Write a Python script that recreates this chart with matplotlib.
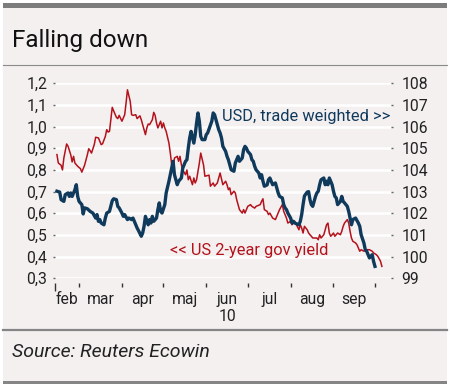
import matplotlib
matplotlib.use("Agg")
import matplotlib.pyplot as plt
import matplotlib.dates as mdates
from matplotlib.patches import Rectangle
from matplotlib.lines import Line2D
from matplotlib.transforms import blended_transform_factory
import pandas as pd

# ---------------- data (day-of-year 2010, value) ----------------
red_doy = [44,45,47,48,49,51,52,54,55,56,57,59,61,62,64,66,67,68,69,71,72,74,76,77,79,80,81,82,84,85,
           87,88,89,91,93,94,95,97,98,99,101,102,104,105,108,109,110,111,113,114,115,116,117,119,120,121,
           122,123,125,126,127,128,129,131,132,133,134,135,137,138,139,140,142,143,144,145,146,147,148,150,
           151,154,155,157,158,160,161,162,163,164,166,167,168,169,170,172,173,174,175,176,178,179,180,181,
           182,184,185,187,188,191,192,193,194,196,197,198,200,202,204,205,207,208,209,210,211,213,214,215,
           216,219,220,221,222,223,225,226,227,228,229,232,233,234,235,237,238,239,240,241,242,243,244,245,
           247,249,250,251,252,254,255,256,257,258,260,261,262,263,264,266,268,270,272,273,275,276,278,279]
red_val = [0.871,0.832,0.822,0.80,0.855,0.92,0.91,0.87,0.837,0.863,0.832,0.817,0.806,0.79,0.822,0.87,
           0.898,0.889,0.878,0.917,0.951,0.948,0.917,0.921,0.955,0.986,0.975,0.978,1.089,1.073,1.043,1.037,
           1.052,1.025,1.055,1.109,1.17,1.117,1.055,1.052,1.055,1.037,1.05,1.032,0.963,0.994,1.012,1.009,
           1.032,1.066,1.052,1.017,0.994,1.025,0.994,1.017,0.994,0.978,0.924,0.878,0.824,0.80,0.855,0.863,
           0.84,0.863,0.824,0.80,0.778,0.80,0.755,0.771,0.732,0.763,0.74,0.755,0.794,0.832,0.878,0.824,
           0.771,0.776,0.725,0.74,0.725,0.74,0.763,0.786,0.76,0.732,0.748,0.732,0.709,0.717,0.686,0.702,
           0.694,0.663,0.64,0.617,0.601,0.617,0.601,0.617,0.632,0.64,0.632,0.624,0.632,0.64,0.655,0.667,
           0.617,0.609,0.594,0.601,0.578,0.571,0.601,0.617,0.64,0.609,0.594,0.578,0.555,0.563,0.547,0.555,
           0.563,0.524,0.547,0.532,0.509,0.54,0.524,0.509,0.501,0.494,0.486,0.486,0.478,0.501,0.486,0.501,
           0.524,0.547,0.555,0.509,0.494,0.501,0.509,0.494,0.509,0.501,0.517,0.54,0.555,0.571,0.555,0.517,
           0.486,0.471,0.463,0.455,0.44,0.425,0.432,0.425,0.432,0.432,0.425,0.417,0.409,0.402,0.379,0.355]

blue_doy = [44,46,47,49,50,52,53,54,55,57,58,59,60,62,63,64,66,68,70,72,73,74,75,76,78,79,80,82,84,85,
            87,88,89,91,92,93,95,96,98,99,100,102,103,105,106,107,108,110,111,112,113,114,116,117,118,119,
            120,122,123,125,126,127,128,129,131,132,134,135,137,138,139,140,141,143,144,145,146,147,148,149,
            151,152,153,156,157,158,160,161,162,163,164,166,167,168,170,172,173,174,175,176,178,179,180,181,
            182,184,185,186,187,188,190,191,192,193,194,196,197,198,200,202,203,204,205,207,208,209,210,211,
            213,214,215,216,219,220,221,222,223,225,226,227,228,229,231,232,233,234,235,237,238,239,240,241,
            243,244,245,246,247,249,250,251,252,254,255,256,257,258,260,262,263,264,266,267,268,269,270,272,
            273,274]
blue_val = [103.02,102.98,102.63,102.55,102.86,102.94,102.78,102.94,102.78,103.09,103.32,102.78,102.55,
            102.40,101.97,102.25,102.21,102.09,102.01,101.78,101.94,101.63,101.71,101.55,101.47,101.78,
            102.01,102.09,102.58,102.67,102.63,102.32,102.25,102.01,101.86,101.94,101.71,101.78,101.71,
            101.78,101.63,101.32,101.2,100.94,101.09,101.40,101.86,101.47,101.71,101.55,101.86,101.63,
            101.78,102.17,102.48,102.09,102.01,102.40,102.94,103.48,103.78,104.09,104.40,103.78,103.32,
            103.48,103.63,104.09,104.40,104.47,105.01,105.48,105.78,105.24,105.63,106.17,106.63,106.25,
            105.55,105.40,105.40,105.63,105.71,106.25,106.63,106.55,106.09,105.86,105.71,105.48,105.09,
            104.86,104.63,104.47,104.01,103.94,104.32,104.47,104.63,104.40,104.55,104.94,105.09,105.01,
            104.86,104.71,104.47,104.40,104.17,104.01,103.86,103.63,103.78,103.48,103.25,103.31,103.55,
            103.63,103.32,103.40,103.17,102.94,102.78,102.71,102.40,102.25,102.17,102.01,101.78,101.55,
            101.63,101.55,101.47,101.63,101.94,102.40,102.8,102.98,103.0,102.63,102.40,102.32,102.78,
            102.94,103.02,103.32,103.55,103.63,103.32,103.48,103.32,103.63,103.32,103.02,102.78,102.71,
            102.40,102.55,102.78,102.55,102.48,102.32,102.09,101.78,101.47,101.71,101.78,101.55,101.40,
            101.01,100.63,100.32,100.25,100.09,99.94,100.09,99.78,99.55]

left_ticks = [0.3, 0.4, 0.5, 0.6, 0.7, 0.8, 0.9, 1.0, 1.1, 1.2]
right_ticks = [99, 100, 101, 102, 103, 104, 105, 106, 107, 108]
month_labels = ["feb", "mar", "apr", "maj", "jun", "jul", "aug", "sep"]
month_starts = ["2010-03-01", "2010-04-01", "2010-05-01", "2010-06-01",
                "2010-07-01", "2010-08-01", "2010-09-01", "2010-10-01"]
year_label = "10"
title = "Falling down"
source = "Source: Reuters Ecowin"
label_usd = "USD, trade weighted >>"
label_us2 = "<< US 2-year gov yield"

# ---------------- styling ----------------
FONT = ["Roboto", "DejaVu Sans"]
plt.rcParams["font.family"] = FONT
BG = "#f5f0f0"
BLUE = "#0f3a5c"
RED = "#b3121c"
TXT = "#222222"

base = pd.Timestamp("2010-01-01")
to_date = lambda d: base + pd.Timedelta(days=d - 1)
red_x = [to_date(d) for d in red_doy]
blue_x = [to_date(d) for d in blue_doy]

W, H = 450, 388
fig = plt.figure(figsize=(W / 100, H / 100), dpi=100, facecolor="white")

# panel background and rules
fig.add_artist(Rectangle((3 / W, (H - 381) / H), 444 / W, 373 / H, transform=fig.transFigure,
                         facecolor=BG, edgecolor="none", zorder=0))
fig.add_artist(Rectangle((3 / W, (H - 8) / H), 444 / W, 5 / H, transform=fig.transFigure,
                         facecolor="#7c7c7c", edgecolor="none", zorder=1))
fig.add_artist(Line2D([3 / W, 447 / W], [(H - 64.5) / H] * 2, transform=fig.transFigure,
                      color="#8a8a8a", linewidth=0.8))
fig.add_artist(Line2D([3 / W, 447 / W], [(H - 330) / H] * 2, transform=fig.transFigure,
                      color="#858585", linewidth=1.6))
fig.add_artist(Rectangle((3 / W, (H - 384) / H), 444 / W, 3 / H, transform=fig.transFigure,
                         facecolor="#858585", edgecolor="none", zorder=1))

fig.text(12 / W, (H - 40) / H, title, fontsize=17.5, color="#111111", va="center", ha="left")
fig.text(12 / W, (H - 352) / H, source, fontsize=14, color=TXT, va="center", ha="left",
         style="italic")

# axes
ax = fig.add_axes([55 / W, (H - 278.3) / H, 336 / W, 195 / H])
ax.set_facecolor("none")
ax2 = ax.twinx()
ax2.set_facecolor("none")

xmin = mdates.date2num(to_date(42.6))
xmax = mdates.date2num(to_date(285.6))

ax.plot(red_x, red_val, color=RED, linewidth=1.1, zorder=3)
ax2.plot(blue_x, blue_val, color=BLUE, linewidth=2.4, zorder=3, solid_joinstyle="round")

ax.set_ylim(0.3, 1.2)
ax2.set_ylim(99, 108)
ax.set_xlim(xmin, xmax)

for a in (ax, ax2):
    for s in a.spines.values():
        s.set_visible(False)

ax.set_yticks(left_ticks)
ax.set_yticklabels([f"{v:.1f}".replace(".", ",") for v in left_ticks])
ax2.set_yticks(right_ticks)
ax2.set_yticklabels([str(v) for v in right_ticks])
ax.yaxis.grid(True, color="white", linewidth=1.8, zorder=0)
ax.set_axisbelow(True)
ax.tick_params(axis="y", length=1.5, width=1, color="#666666", pad=4, labelsize=11.3, labelcolor=TXT)
ax2.tick_params(axis="y", length=1.5, width=1, color="#666666", pad=6, labelsize=11.3, labelcolor=TXT)

# x axis: ticks at month boundaries, labels centred between them
tick_pos = [xmin] + [mdates.date2num(pd.Timestamp(m)) for m in month_starts]
ax.spines["bottom"].set_position(("outward", 3.6))
ax.set_xticks(tick_pos)
ax.set_xticklabels([])
ax.tick_params(axis="x", direction="out", length=3, width=1, color="#333333")
ticks = ax.xaxis.get_major_ticks()
ticks[0].tick1line.set_markersize(6)

tr = blended_transform_factory(ax.transData, ax.transAxes)
for i, lab in enumerate(month_labels):
    mid = (tick_pos[i] + tick_pos[i + 1]) / 2
    ax.text(mid, -0.111, lab, transform=tr, ha="center", va="center", fontsize=11.3, color=TXT)
jun_mid = (tick_pos[4] + tick_pos[5]) / 2
ax.text(jun_mid, -0.197, year_label, transform=tr, ha="center", va="center", fontsize=11.3, color=TXT)

# series labels
ax.text(0.997, 0.829, label_usd, transform=ax.transAxes, ha="right", va="center",
        fontsize=11.8, color=BLUE)
ax.text(0.342, 0.1415, label_us2, transform=ax.transAxes, ha="left", va="center",
        fontsize=11.8, color=RED)

fig.savefig("out.png", dpi=100, facecolor="white")
